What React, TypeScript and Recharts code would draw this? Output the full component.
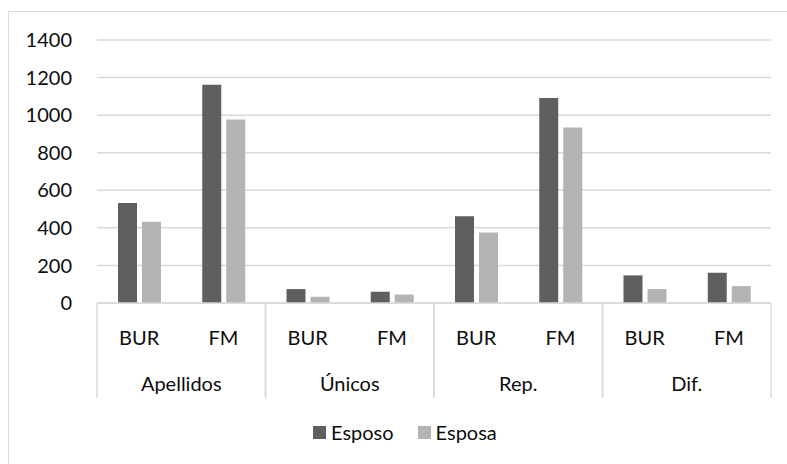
import React from "react"
import { BarChart, Bar, XAxis, YAxis, CartesianGrid, Legend } from "recharts"

const CATEGORIES = ["BUR", "FM", "BUR", "FM", "BUR", "FM", "BUR", "FM"]
const GROUPS = ["Apellidos", "Apellidos", "Únicos", "Únicos", "Rep.", "Rep.", "Dif.", "Dif."]
const ESPOSO = [532, 1162, 74, 60, 462, 1091, 147, 161]
const ESPOSA = [432, 977, 33, 45, 375, 934, 74, 90]
const Y_TICKS = [0, 200, 400, 600, 800, 1000, 1200, 1400]

const SERIES = [
  { key: "esposo", name: "Esposo", color: "#5f5f5f" },
  { key: "esposa", name: "Esposa", color: "#b3b3b3" },
]

const data = CATEGORIES.map((cat, i) => ({
  cat,
  group: GROUPS[i],
  esposo: ESPOSO[i],
  esposa: ESPOSA[i],
}))

const W = 787
const H = 464
const FONT = "Lato, 'Open Sans', sans-serif"
const TEXT = "#0d0d0d"
const LINE = "#d9d9d9"
const CAT_AXIS_H = 60
const GROUP_AXIS_H = 35

const CategoryTick = ({ x, y, payload }: any) => (
  <text x={x} y={y + 34} textAnchor="middle" dominantBaseline="central" fill={TEXT} fontSize={20} fontFamily={FONT}>
    {payload.value}
  </text>
)

// group label plus the separators at both band edges, spanning both axis rows
const GroupTick = ({ x, y, payload, width, visibleTicksCount }: any) => {
  const band = (width || 674) / (visibleTicksCount || 4)
  const top = y - CAT_AXIS_H
  const bottom = y + GROUP_AXIS_H
  return (
    <g>
      <line x1={x - band / 2} x2={x - band / 2} y1={top} y2={bottom} stroke={LINE} strokeWidth={1.5} />
      <line x1={x + band / 2} x2={x + band / 2} y1={top} y2={bottom} stroke={LINE} strokeWidth={1.5} />
      <text x={x} y={y + 19.5} textAnchor="middle" dominantBaseline="central" fill={TEXT} fontSize={20} fontFamily={FONT}>
        {payload.value}
      </text>
    </g>
  )
}

const LegendContent = () => (
  <div style={{ display: "flex", alignItems: "center", height: 24, fontFamily: FONT, fontSize: 20, color: TEXT }}>
    {SERIES.map((s, i) => (
      <div key={s.key} style={{ display: "flex", alignItems: "center", marginLeft: i ? 24 : 0 }}>
        <span style={{ display: "inline-block", width: 13, height: 13, background: s.color, marginRight: 5 }} />
        <span>{s.name}</span>
      </div>
    ))}
  </div>
)

export default function App() {
  return (
    <div style={{ position: "absolute", left: 0, top: 0, width: W, height: H, overflow: "hidden", background: "#fff" }}>
      <div
        style={{
          position: "absolute",
          left: 8,
          top: 11,
          width: 820,
          height: 480,
          borderLeft: `1.5px solid ${LINE}`,
          borderTop: `1.5px solid ${LINE}`,
        }}
      />
      <BarChart
        width={W}
        height={H}
        data={data}
        margin={{ top: 40, right: 16, bottom: 66, left: 0 }}
        barSize={19}
        barGap={5}
        style={{ position: "absolute", left: 0, top: 0 }}
      >
        <CartesianGrid vertical={false} stroke={LINE} strokeWidth={1.5} />
        <YAxis
          width={97}
          domain={[0, 1400]}
          ticks={Y_TICKS}
          axisLine={false}
          tickLine={false}
          tickSize={0}
          tickMargin={25}
          tick={{ fill: TEXT, fontSize: 20, fontFamily: FONT }}
        />
        <XAxis
          dataKey="cat"
          height={CAT_AXIS_H}
          axisLine={{ stroke: LINE, strokeWidth: 1.5 }}
          tickLine={false}
          tickSize={0}
          tickMargin={0}
          interval={0}
          tick={<CategoryTick />}
        />
        <XAxis
          xAxisId="grp"
          dataKey="group"
          allowDuplicatedCategory={false}
          height={GROUP_AXIS_H}
          axisLine={false}
          tickLine={false}
          tickSize={0}
          tickMargin={0}
          interval={0}
          tick={<GroupTick />}
        />
        <Legend
          layout="horizontal"
          verticalAlign="middle"
          content={<LegendContent />}
          wrapperStyle={{ top: 420, left: 313, width: "auto" }}
        />
        {SERIES.map((s) => (
          <Bar key={s.key} dataKey={s.key} name={s.name} fill={s.color} isAnimationActive={false} />
        ))}
      </BarChart>
    </div>
  )
}
